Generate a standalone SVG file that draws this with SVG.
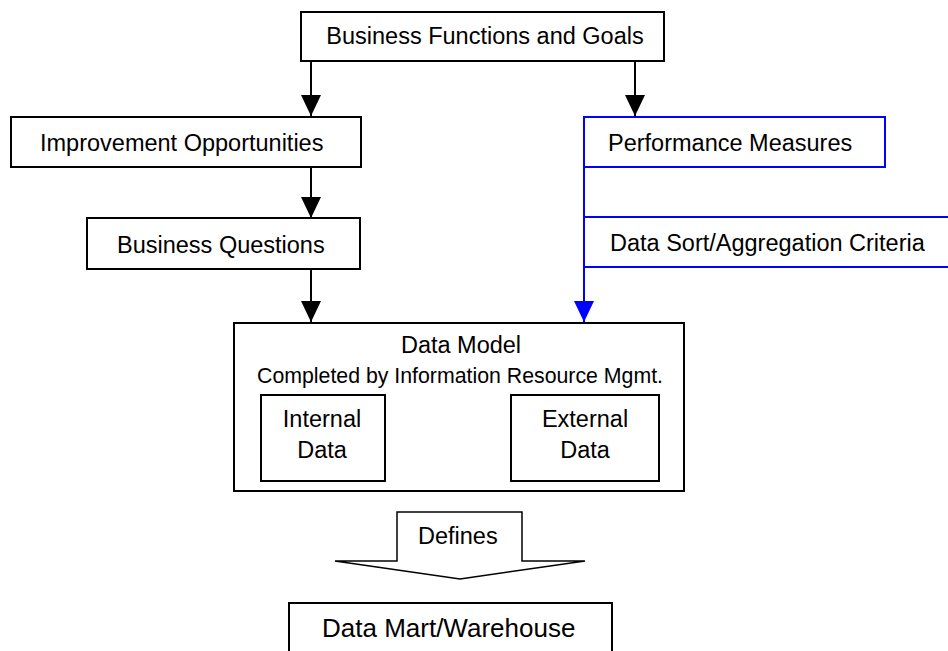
<svg xmlns="http://www.w3.org/2000/svg" width="948" height="651" viewBox="0 0 948 651">
<style>
  .box { fill: #fff; stroke: #000; stroke-width: 2; }
  .bbox { fill: none; stroke: #0000ff; stroke-width: 2; }
  .t { font-family: "Liberation Sans", Arial, sans-serif; font-size: 23.5px; fill: #000; }
  .s { font-size: 21.3px; }
  .c { text-anchor: middle; }
  .ln { stroke: #000; stroke-width: 2; fill: none; }
  .bl { stroke: #0000ff; stroke-width: 2; fill: none; }
</style>
<defs>
  <marker id="ah" markerUnits="userSpaceOnUse" markerWidth="22" markerHeight="20" refX="21" refY="10" orient="auto">
    <path d="M0,0 L21,10 L0,20 Z" fill="#000"/>
  </marker>
  <marker id="ahb" markerUnits="userSpaceOnUse" markerWidth="22" markerHeight="20" refX="21" refY="10" orient="auto">
    <path d="M0,0 L21,10 L0,20 Z" fill="#0000ff"/>
  </marker>
</defs>
<rect width="948" height="651" fill="#fff"/>
<g id="connectors">
  <line class="ln" x1="311" y1="61" x2="311" y2="116" marker-end="url(#ah)"/>
  <line class="ln" x1="635" y1="61" x2="635" y2="116" marker-end="url(#ah)"/>
  <line class="ln" x1="311" y1="167" x2="311" y2="218" marker-end="url(#ah)"/>
  <line class="ln" x1="311" y1="269" x2="311" y2="322" marker-end="url(#ah)"/>
  <line class="bl" x1="584" y1="167" x2="584" y2="322" marker-end="url(#ahb)"/>
</g>
<g id="n-goals">
  <rect class="box" x="301" y="12" width="363" height="49"/>
  <text class="t c" x="485" y="44">Business Functions and Goals</text>
</g>
<g id="n-improve">
  <rect class="box" x="11" y="117" width="350" height="50"/>
  <text class="t" x="40" y="151">Improvement Opportunities</text>
</g>
<g id="n-questions">
  <rect class="box" x="87" y="218" width="273" height="51"/>
  <text class="t" x="117" y="253">Business Questions</text>
</g>
<g id="n-perf">
  <rect class="bbox" x="584" y="117" width="301" height="50"/>
  <text class="t" x="608" y="151">Performance Measures</text>
</g>
<g id="n-sort">
  <path class="bl" d="M960,217 H584 V267 H960"/>
  <text class="t" x="610" y="251">Data Sort/Aggregation Criteria</text>
</g>
<g id="n-model">
  <rect class="box" x="234" y="323" width="450" height="168"/>
  <text class="t c" x="461" y="353">Data Model</text>
  <text class="t s c" x="460" y="383">Completed by Information Resource Mgmt.</text>
</g>
<g id="n-internal">
  <rect class="box" x="261" y="395" width="124" height="86"/>
  <text class="t c" x="322" y="427">Internal</text>
  <text class="t c" x="322" y="458">Data</text>
</g>
<g id="n-external">
  <rect class="box" x="511" y="395" width="148" height="86"/>
  <text class="t c" x="585" y="427">External</text>
  <text class="t c" x="585" y="458">Data</text>
</g>
<g id="n-defines">
  <polygon points="397,512 522,512 522,561 585,561 460,579 335,561 397,561" fill="#fff" stroke="#000" stroke-width="1.5"/>
  <text class="t" x="418" y="544">Defines</text>
</g>
<g id="n-mart">
  <rect class="box" x="289" y="603" width="323" height="60"/>
  <text class="t" x="322" y="637" style="font-size:26px">Data Mart/Warehouse</text>
</g>
</svg>
